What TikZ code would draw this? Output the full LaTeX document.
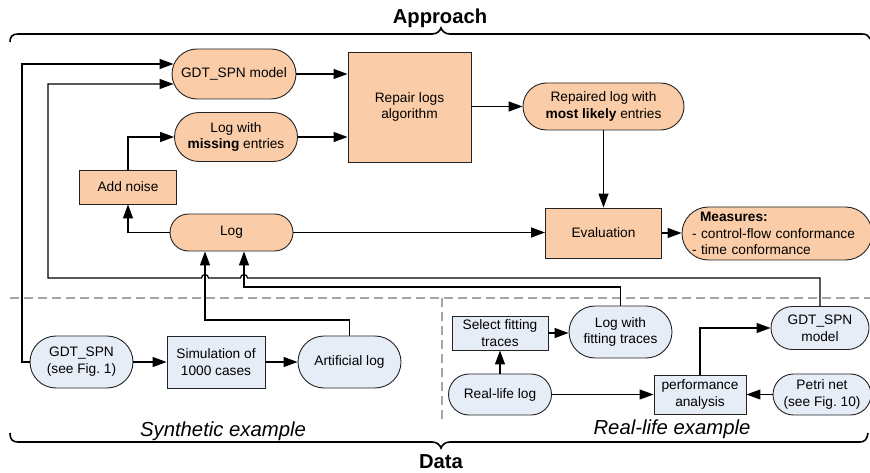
\documentclass[tikz,border=0pt]{standalone}
\usepackage{fontspec}
\setmainfont{Liberation Sans}
\usetikzlibrary{arrows.meta}
\definecolor{orfill}{RGB}{250,205,168}
\definecolor{blfill}{RGB}{231,237,247}
\definecolor{bordc}{RGB}{35,35,35}
\definecolor{dashc}{RGB}{165,165,165}
\begin{document}
\begin{tikzpicture}[x=1pt,y=-1pt,
  every node/.style={font=\fontsize{13.7}{16.8}\selectfont\frenchspacing, align=center, inner sep=1pt},
  ob/.style={draw=bordc, line width=0.9pt, fill=orfill},
  bb/.style={draw=bordc, line width=0.9pt, fill=blfill},
  arr/.style={draw=black, line width=1.2pt, -{Triangle[length=14pt,width=10pt]}},
  brc/.style={draw=black, line width=1.6pt},
  big/.style={font=\bfseries\fontsize{20.2}{22}\selectfont, anchor=base},
  ital/.style={font=\itshape\fontsize{20.3}{22}\selectfont, anchor=base},
]
\useasboundingbox (0,0) rectangle (870,473);

% braces and separators
\draw[brc] (10,42) .. controls (10,37) and (12,34) .. (18,34) -- (432,34)
  .. controls (437,34) and (440,31) .. (441,28)
  .. controls (442,31) and (445,34) .. (450,34) -- (862,34)
  .. controls (866,34) and (868,35) .. (870,39);
\draw[brc] (10,433) .. controls (10,439) and (12,442) .. (18,442) -- (432,442)
  .. controls (437,442) and (440,445) .. (441,448)
  .. controls (442,445) and (445,442) .. (450,442) -- (860,442)
  .. controls (865,442) and (867,439) .. (868,433);
\draw[dashc, line width=1.2pt, dash pattern=on 9pt off 5pt] (10,298) -- (870,298);
\draw[dashc, line width=1.2pt, dash pattern=on 9pt off 5pt] (442,298) -- (442,422);

\node[big] (apl) at (440,24) {Approach};
\node[big] (dl) at (441,468) {Data};
\node[ital] (syn) at (223,436) {Synthetic example};
\node[ital] (rle) at (672,434) {Real-life example};

% approach nodes
\node[ob, minimum width=124pt, minimum height=50pt, rounded corners=25pt] (gdtm) at (234,74) {GDT\_SPN model};
\node[ob, minimum width=123pt, minimum height=49pt, rounded corners=24.5pt] (lmiss) at (236,137) {Log with\\ \textbf{missing} entries};
\node[ob, minimum width=123pt, minimum height=110pt] (repair) at (409.5,107) {Repair logs\\ algorithm};
\node[ob, minimum width=161pt, minimum height=47pt, rounded corners=23.5pt] (repaired) at (603.5,106.5) {Repaired log with\\ \textbf{most likely} entries};
\node[ob, minimum width=97pt, minimum height=34pt] (noise) at (128,187) {Add noise};
\node[ob, minimum width=123pt, minimum height=37pt, rounded corners=18.5pt] (log) at (231.5,232.5) {Log};
\node[ob, minimum width=116pt, minimum height=50pt] (eval) at (603.5,233) {Evaluation};
\node[ob, minimum height=53pt, text width=170pt, inner xsep=10pt, align=left, rounded corners=26.5pt] (meas) at (777,233.5)
  {\hspace*{8pt}\textbf{Measures:}\\ - control-flow conformance\\ - time conformance};

% data nodes
\node[bb, minimum width=103pt, minimum height=52pt, rounded corners=26pt] (gfig1) at (81.5,362) {GDT\_SPN\\ (see Fig. 1)};
\node[bb, minimum width=98pt, minimum height=52pt] (sim) at (216,362) {Simulation of\\ 1000 cases};
\node[bb, minimum width=103pt, minimum height=52pt, rounded corners=26pt] (art) at (349.5,362) {Artificial log};
\node[bb, minimum width=96pt, minimum height=34pt] (sel) at (500,333) {Select fitting\\ traces};
\node[bb, minimum width=103pt, minimum height=52pt, rounded corners=26pt] (lfit) at (620.5,332) {Log with\\ fitting traces};
\node[bb, minimum width=98pt, minimum height=43pt, rounded corners=21.5pt] (gdtb) at (820,328) {GDT\_SPN\\ model};
\node[bb, minimum width=103pt, minimum height=41pt, rounded corners=20.5pt] (real) at (500,394.5) {Real-life log};
\node[bb, minimum width=92pt, minimum height=39pt] (perf) at (700,394.5) {performance\\ analysis};
\node[bb, minimum width=98pt, minimum height=41pt, rounded corners=20.5pt] (petri) at (822,394.5) {Petri net\\ (see Fig. 10)};

% helper coordinates
\coordinate (ca) at (22,64);
\coordinate (cb) at (48,84);
\coordinate (cc) at (48,278);
\coordinate (hopA) at (244,278);
\coordinate (hopB) at (205,278);
\coordinate (cd) at (205,320);
\coordinate (ce) at (244,287);

% approach connectors
\draw[arr] (gdtm.east) -- (gdtm.east -| repair.west);
\draw[arr] (lmiss.east) -- (lmiss.east -| repair.west);
\draw[arr] (repair.east |- repaired.west) -- (repaired.west);
\draw[arr] (repaired.south) -- (repaired.south |- eval.north);
\draw[arr] (log.east) -- (log.east -| eval.west);
\draw[arr] (eval.east) -- (eval.east -| meas.west);
\draw[arr] (log.west) -| (noise.south);
\draw[arr] (noise.north) |- (lmiss.west);

% data to approach
\draw[arr] (gfig1.west) -- (gfig1.west -| ca) -- (ca) -- ([xshift=2pt]ca -| gdtm.west);
\draw[arr] (gdtb.north) |- ([xshift=3.5pt]hopA) arc[start angle=0, end angle=180, radius=3.5pt]
  -- ([xshift=3.5pt]hopB) arc[start angle=0, end angle=180, radius=3.5pt]
  -- (cc) -- (cb) -- ([xshift=2pt]cb -| gdtm.west);
\draw[arr] (art.north) |- (cd) -- (cd |- log.south);
\draw[arr] (lfit.north) |- (ce) -- (ce |- log.south);

% data connectors
\draw[arr] (gfig1.east) -- (sim.west);
\draw[arr] (sim.east) -- (art.west);
\draw[arr] (sel.east) -- (sel.east -| lfit.west);
\draw[arr] (real.north) -- (sel.south);
\draw[arr] (real.east) -- (perf.west);
\draw[arr] (petri.west) -- (perf.east);
\draw[arr] (perf.north) |- (gdtb.west);
\end{tikzpicture}
\end{document}
